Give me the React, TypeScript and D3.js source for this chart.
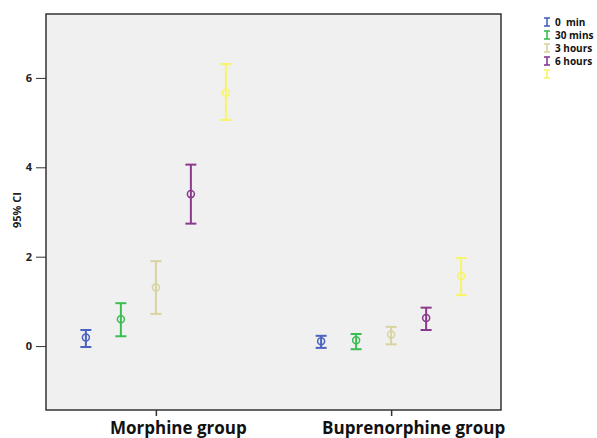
import React, { useEffect, useRef } from 'react';
import * as d3 from 'd3';

// groups on the x axis
const groups = ['Morphine group', 'Buprenorphine group'];
// time points (legend)
const times = ['0  min', '30 mins', '3 hours', '6 hours', ''];
const timeColors = ['#4a62c0', '#3cbd52', '#d8d3a0', '#8a3a8c', '#f8f46a'];

// mean and 95% CI per group, one value per time point
const morphineMean = [0.19, 0.6, 1.31, 3.4, 5.67];
const morphineLo = [-0.02, 0.22, 0.72, 2.74, 5.06];
const morphineHi = [0.36, 0.96, 1.9, 4.06, 6.31];
const bupMean = [0.11, 0.13, 0.26, 0.63, 1.57];
const bupLo = [-0.04, -0.07, 0.04, 0.36, 1.14];
const bupHi = [0.23, 0.27, 0.43, 0.86, 1.97];

const yTicks = [0, 2, 4, 6];

const App = () => {
  const svgRef = useRef<SVGSVGElement>(null);
  const width = 597;
  const height = 438;

  useEffect(() => {
    const svg = d3.select(svgRef.current);
    svg.selectAll('*').remove();

    const margin = { top: 14, right: 96, bottom: 28, left: 46 };
    const innerWidth = width - margin.left - margin.right;
    const innerHeight = height - margin.top - margin.bottom;

    const x = d3.scalePoint<string>().domain(groups).range([0, innerWidth]).padding(0.467);
    const offset = d3.scalePoint<string>().domain(times.map((t, i) => String(i))).range([-70, 70]);
    const y = d3.scaleLinear().domain([-1.43, 7.43]).range([innerHeight, 0]);

    const g = svg.append('g').attr('transform', `translate(${margin.left},${margin.top})`);

    g.append('rect')
      .attr('width', innerWidth)
      .attr('height', innerHeight)
      .attr('fill', '#f0f0f0')
      .attr('stroke', '#333')
      .attr('stroke-width', 1.5);

    // y axis
    const yAxis = g.append('g')
      .call(d3.axisLeft(y).tickValues(yTicks).tickSize(10).tickFormat(d3.format('d')));
    yAxis.select('.domain').remove();
    yAxis.selectAll('line').attr('stroke', '#333');
    yAxis.selectAll('text')
      .attr('x', -14)
      .style('font-family', '"Open Sans", sans-serif')
      .style('font-weight', 'bold')
      .style('font-size', '11px')
      .attr('fill', '#222');

    g.append('text')
      .attr('transform', 'rotate(-90)')
      .attr('x', -(210 - margin.top))
      .attr('y', -25)
      .style('text-anchor', 'middle')
      .style('font-family', '"Open Sans", sans-serif')
      .style('font-weight', 'bold')
      .style('font-size', '11px')
      .attr('fill', '#222')
      .text('95% CI');

    // x axis
    const xAxis = g.append('g')
      .attr('transform', `translate(0,${innerHeight})`)
      .call(d3.axisBottom(x).tickSize(6));
    xAxis.select('.domain').remove();
    xAxis.selectAll('line').attr('stroke', '#333').attr('stroke-width', 1.5);
    xAxis.selectAll('text')
      .attr('dx', 22)
      .attr('y', 12)
      .style('font-family', '"Open Sans", sans-serif')
      .style('font-weight', 'bold')
      .style('font-size', '17px')
      .attr('fill', '#111');

    const data = [
      { group: groups[0], mean: morphineMean, lo: morphineLo, hi: morphineHi },
      { group: groups[1], mean: bupMean, lo: bupLo, hi: bupHi },
    ];

    const cap = 5.5;
    data.forEach(d => {
      d.mean.forEach((m, i) => {
        const cx = (x(d.group) as number) + (offset(String(i)) as number);
        const col = timeColors[i];
        const e = g.append('g').attr('stroke', col).attr('stroke-width', 2).attr('fill', 'none');
        e.append('line').attr('x1', cx).attr('x2', cx).attr('y1', y(d.lo[i])).attr('y2', y(d.hi[i]));
        e.append('line').attr('x1', cx - cap).attr('x2', cx + cap).attr('y1', y(d.lo[i])).attr('y2', y(d.lo[i]));
        e.append('line').attr('x1', cx - cap).attr('x2', cx + cap).attr('y1', y(d.hi[i])).attr('y2', y(d.hi[i]));
        e.append('circle').attr('cx', cx).attr('cy', y(m)).attr('r', 3.5).attr('stroke-width', 1.5);
      });
    });

    // legend
    const legend = svg.append('g').attr('transform', 'translate(547, 22)');
    times.forEach((t, i) => {
      const row = legend.append('g').attr('transform', `translate(0, ${i * 13})`);
      const s = row.append('g').attr('stroke', timeColors[i]).attr('stroke-width', 1.6);
      s.append('line').attr('x1', 0).attr('x2', 0).attr('y1', -4).attr('y2', 4);
      s.append('line').attr('x1', -3).attr('x2', 3).attr('y1', -4).attr('y2', -4);
      s.append('line').attr('x1', -3).attr('x2', 3).attr('y1', 4).attr('y2', 4);
      row.append('text')
        .attr('x', 8)
        .attr('y', 3.5)
        .style('font-family', '"Open Sans", sans-serif')
        .style('font-weight', 'bold')
        .style('font-size', '10px')
        .attr('fill', '#111')
        .style('white-space', 'pre')
        .text(t);
    });
  }, []);

  return (
    <svg ref={svgRef} width={width} height={height} style={{ position: 'absolute', left: 0, top: 0, background: '#fff' }} />
  );
};

export default App;
